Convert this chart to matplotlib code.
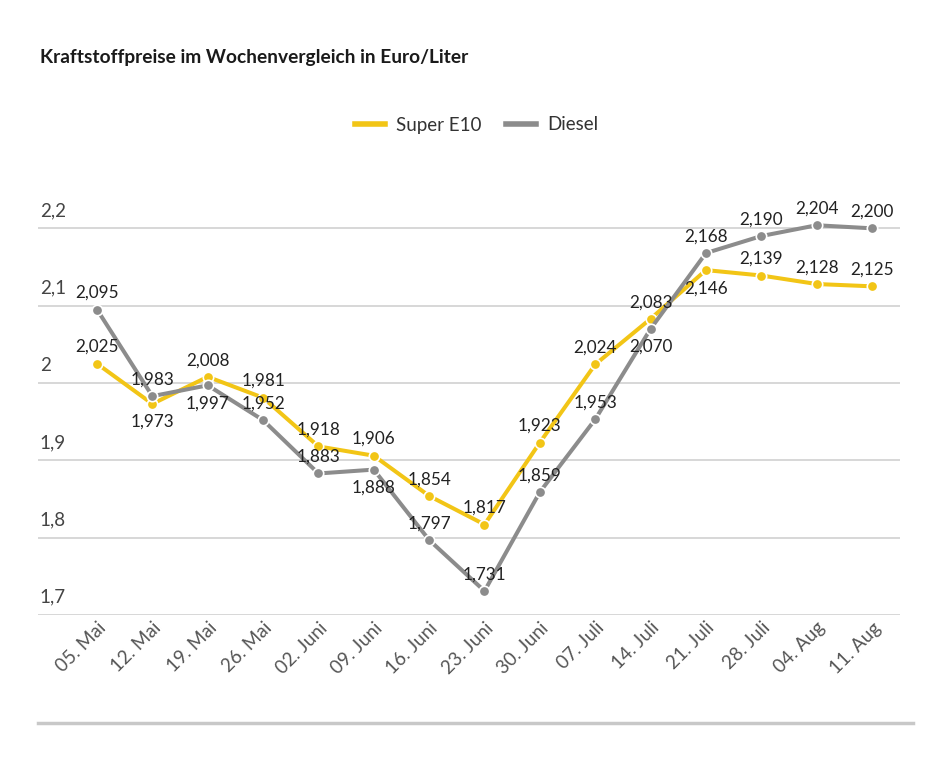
import numpy as np
import matplotlib.pyplot as plt
from matplotlib.lines import Line2D

plt.rcParams['font.family'] = ['Lato', 'DejaVu Sans']

dates = ['05. Mai', '12. Mai', '19. Mai', '26. Mai', '02. Juni', '09. Juni',
         '16. Juni', '23. Juni', '30. Juni', '07. Juli', '14. Juli', '21. Juli',
         '28. Juli', '04. Aug', '11. Aug']
e10 = [2.025, 1.973, 2.008, 1.981, 1.918, 1.906, 1.854, 1.817, 1.923, 2.024,
       2.083, 2.146, 2.139, 2.128, 2.125]
diesel = [2.095, 1.983, 1.997, 1.952, 1.883, 1.888, 1.797, 1.731, 1.859, 1.953,
          2.070, 2.168, 2.190, 2.204, 2.200]
# label below the point (True) or above (False)
e10_below = [False, True, False, False, False, False, False, False, False, False,
             False, True, False, False, False]
diesel_below = [False, False, True, False, False, True, False, False, False, False,
                True, False, False, False, False]
yticks = [1.7, 1.8, 1.9, 2.0, 2.1, 2.2]

yellow = '#F2C516'
grey = '#8C8C8C'

fig = plt.figure(figsize=(9.53, 7.68), dpi=100)
ax = fig.add_axes([38 / 953, 1 - 615 / 768, 862 / 953, 464 / 768])

x = np.arange(len(dates))
ax.plot(x, e10, color=yellow, lw=2.9, marker='o', ms=7.5, mec='white', mew=1.2,
        label='Super E10', zorder=3)
ax.plot(x, diesel, color=grey, lw=2.9, marker='o', ms=7.5, mec='white', mew=1.2,
        label='Diesel', zorder=4)

def fmt(v):
    return f'{v:.3f}'.replace('.', ',')

for xi, v, b in zip(x, e10, e10_below):
    ax.annotate(fmt(v), (xi, v), xytext=(0, -13 if b else 12), textcoords='offset points',
                ha='center', va='center', fontsize=12.3, color='#222222', zorder=6)
for xi, v, b in zip(x, diesel, diesel_below):
    ax.annotate(fmt(v), (xi, v), xytext=(0, -13 if b else 12), textcoords='offset points',
                ha='center', va='center', fontsize=12.3, color='#222222', zorder=6)

ax.set_xlim(-1.066, 14.506)
ax.set_ylim(1.7, 2.3)
for yt in yticks:
    ax.axhline(yt, color='#d4d4d4', lw=1.3, zorder=1)
    ax.text(0.002, yt + 0.012, fmt(yt).rstrip('0').rstrip(','), transform=ax.get_yaxis_transform(),
            ha='left', va='bottom', fontsize=13.5, color='#444444')

ax.set_yticks([])
ax.set_xticks(x)
ax.set_xticklabels(dates, rotation=45, ha='right', rotation_mode='anchor',
                   fontsize=13.5, color='#555555')
ax.tick_params(axis='x', length=0, pad=3)
for s in ax.spines.values():
    s.set_visible(False)

fig.text(40 / 953, 1 - 58 / 768, 'Kraftstoffpreise im Wochenvergleich in Euro/Liter',
         fontsize=13.8, fontweight='bold', color='#1a1a1a', va='center', ha='left')

handles = [Line2D([], [], color=yellow, lw=4), Line2D([], [], color=grey, lw=4)]
fig.legend(handles, ['Super E10', 'Diesel'], loc='center', bbox_to_anchor=(477 / 953, 1 - 125 / 768),
           ncol=2, frameon=False, fontsize=13.5, handlelength=1.6, columnspacing=1.3,
           handletextpad=0.6, labelcolor='#333333')

fig.add_artist(Line2D([38 / 953, 913 / 953], [1 - 723 / 768, 1 - 723 / 768],
                      color='#c8c8c8', lw=2.5))

fig.savefig('out.png', dpi=100)
